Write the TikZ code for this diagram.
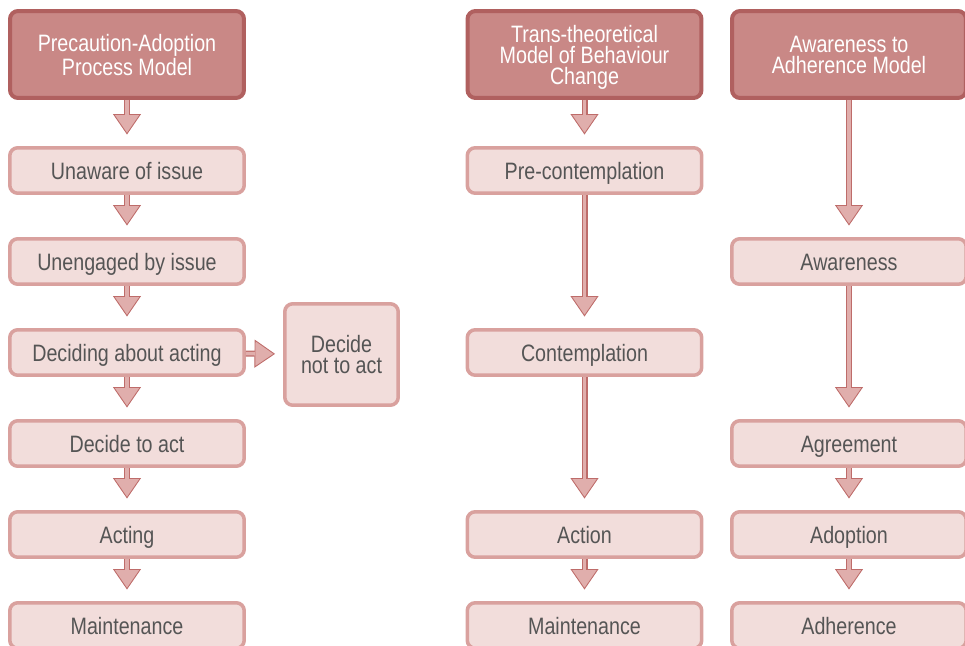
\documentclass[tikz,border=0pt]{standalone}
\usepackage{fontspec}
\setmainfont{Liberation Sans}[FakeStretch=0.83]
\usetikzlibrary{arrows.meta}
\definecolor{headfill}{RGB}{201,136,134}
\definecolor{headdraw}{RGB}{176,96,95}
\definecolor{stepfill}{RGB}{242,221,219}
\definecolor{stepdraw}{RGB}{217,161,158}
\definecolor{steptext}{RGB}{85,85,85}
\definecolor{flowfill}{RGB}{224,174,172}
\definecolor{flowdraw}{RGB}{190,108,106}
\tikzset{
  box/.style = {align=center, inner sep=0pt, rounded corners=0.16cm, font=\fontsize{13.5}{12}\selectfont},
  hnode/.style = {box, draw=headdraw, fill=headfill, text=white, line width=0.08cm, minimum width=4.68cm, minimum height=1.74cm, text depth=-3pt},
  snode/.style = {box, draw=stepdraw, fill=stepfill, text=steptext, line width=0.07cm, minimum width=4.69cm, minimum height=0.91cm, text height=0.97em, text depth=0pt},
  flow/.style = {draw=flowdraw, line width=0.12cm, shorten >=#1,
    -{Triangle[width=0.56cm, length=0.41cm, fill=flowfill, line width'=0.5pt]},
    postaction={draw=flowfill, line width=0.07cm, shorten >=#1+0.4cm, -}},
  flow/.default = 0.23cm,
}
\begin{document}
\begin{tikzpicture}[x=0.02cm, y=-0.02cm]
\useasboundingbox (0,0) rectangle (965,646);
% headers
\node [hnode] (pap) at (127,54.5) {Precaution-Adoption\\Process Model};
\node [hnode] (ttm) at (584.5,54.5) {Trans-theoretical\\Model of Behaviour\\Change};
\node [hnode] (aam) at (849,54.5) {Awareness to\\Adherence Model};
% stages
\foreach \t [count=\i] in {Unaware of issue, Unengaged by issue, Deciding about acting, Decide to act, Acting, Maintenance}
  \node [snode] (pap\i) at (127,79.5+91*\i) {\t};
\foreach \r/\t [count=\i] in {1/Pre-contemplation, 3/Contemplation, 5/Action, 6/Maintenance}
  \node [snode] (ttm\i) at (584.5,79.5+91*\r) {\t};
\foreach \r/\t [count=\i] in {2/Awareness, 4/Agreement, 5/Adoption, 6/Adherence}
  \node [snode] (aam\i) at (849,79.5+91*\r) {\t};
\node [snode, text height=, text depth=, minimum width=2.27cm, minimum height=2.03cm] (nact) at (341.5,354.5) {Decide\\not to act};
% arrows
\foreach \a/\b in {pap/pap1, pap1/pap2, pap2/pap3, pap3/pap4, pap4/pap5, pap5/pap6,
                   ttm/ttm1, ttm1/ttm2, ttm2/ttm3, ttm3/ttm4,
                   aam/aam1, aam1/aam2, aam2/aam3, aam3/aam4}
  \draw [flow] (\a) -- (\b);
\draw [flow=0.16cm] (pap3) -- (nact);
\end{tikzpicture}
\end{document}
